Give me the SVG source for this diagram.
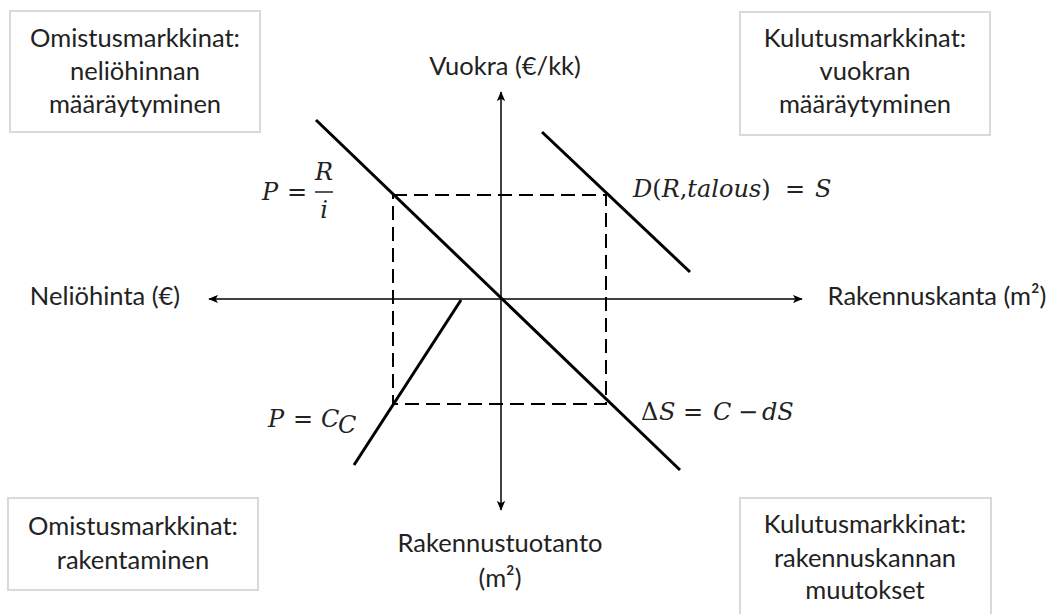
<svg xmlns="http://www.w3.org/2000/svg" width="1051" height="614" viewBox="0 0 1051 614">
<style>
.box{fill:#fff;stroke:#d9d9d9;stroke-width:2}
.lbl{font-family:Lato,"Open Sans",sans-serif;font-size:25.5px;fill:#222;text-anchor:middle}
.math{font-family:"DejaVu Serif","Liberation Serif",serif;font-style:italic;font-size:24px;fill:#222}
.up{font-family:"DejaVu Serif","Liberation Serif",serif;font-style:normal;font-size:24px;fill:#222}
.axis{stroke:#000;stroke-width:1.5;fill:none}
.curve{stroke:#000;stroke-width:3;fill:none}
.dash{stroke:#000;stroke-width:2;fill:none;stroke-dasharray:14 7}
</style>
<defs>
<marker id="arr" viewBox="0 0 12 10" refX="11" refY="5" markerWidth="10" markerHeight="9" markerUnits="userSpaceOnUse" orient="auto">
<path d="M0,0 L12,5 L0,10 L3,5 z" fill="#000"/>
</marker>
</defs>
<rect width="1051" height="614" fill="#fff"/>
<g id="box-tl"><rect class="box" x="10" y="11" width="250" height="121"/>
<text class="lbl" x="135" y="47">Omistusmarkkinat:</text><text class="lbl" x="135" y="80">neliöhinnan</text><text class="lbl" x="135" y="113">määräytyminen</text></g>
<g id="box-tr"><rect class="box" x="740" y="12" width="250" height="123"/>
<text class="lbl" x="865" y="47">Kulutusmarkkinat:</text><text class="lbl" x="865" y="80">vuokran</text><text class="lbl" x="865" y="113">määräytyminen</text></g>
<g id="box-bl"><rect class="box" x="8" y="498" width="250" height="92"/>
<text class="lbl" x="133" y="535">Omistusmarkkinat:</text><text class="lbl" x="133" y="569">rakentaminen</text></g>
<g id="box-br"><rect class="box" x="740" y="498" width="251" height="130"/>
<text class="lbl" x="865" y="533">Kulutusmarkkinat:</text><text class="lbl" x="865" y="567">rakennuskannan</text><text class="lbl" x="865" y="599">muutokset</text></g>
<g id="connectors">
<line class="axis" x1="501" y1="300" x2="501" y2="92" marker-end="url(#arr)"/>
<line class="axis" x1="501" y1="298" x2="501" y2="510" marker-end="url(#arr)"/>
<line class="axis" x1="501" y1="299" x2="209" y2="299" marker-end="url(#arr)"/>
<line class="axis" x1="501" y1="299" x2="802" y2="299" marker-end="url(#arr)"/>
<path class="dash" d="M393,195 H606 V404 H393 Z"/>
<line class="curve" x1="316" y1="120" x2="680" y2="470"/>
<line class="curve" x1="542" y1="132" x2="690" y2="272"/>
<line class="curve" x1="461" y1="300" x2="354" y2="465"/>
</g>
<g id="axis-labels">
<text class="lbl" x="505" y="75">Vuokra (€/kk)</text>
<text class="lbl" x="105" y="305">Neliöhinta (€)</text>
<text class="lbl" x="937" y="305">Rakennuskanta (m²)</text>
<text class="lbl" x="500" y="552">Rakennustuotanto</text>
<text class="lbl" x="500" y="587">(m²)</text>
</g>
<g id="formulas">
<text class="math" x="262" y="200">P</text>
<text class="up" x="287" y="200">=</text>
<line x1="315" y1="192" x2="333" y2="192" stroke="#222" stroke-width="1.5"/>
<text class="math" x="324" y="180" text-anchor="middle">R</text>
<text class="math" x="324" y="218" text-anchor="middle">i</text>
<text class="math" x="633" y="197">D<tspan class="up">(</tspan>R<tspan class="up">,</tspan>talous<tspan class="up">)</tspan></text>
<text class="up" x="785" y="197">=</text>
<text class="math" x="815" y="197">S</text>
<text class="math" x="268" y="427">P</text>
<text class="up" x="293" y="427">=</text>
<text class="math" x="321" y="427">C</text>
<text class="math" x="338" y="433" font-size="17">C</text>
<text class="up" x="641" y="420">Δ</text>
<text class="math" x="659" y="420">S</text>
<text class="up" x="683" y="420">=</text>
<text class="math" x="713" y="420">C</text>
<text class="up" x="738" y="420">−</text>
<text class="math" x="762" y="420">dS</text>
</g>
</svg>
